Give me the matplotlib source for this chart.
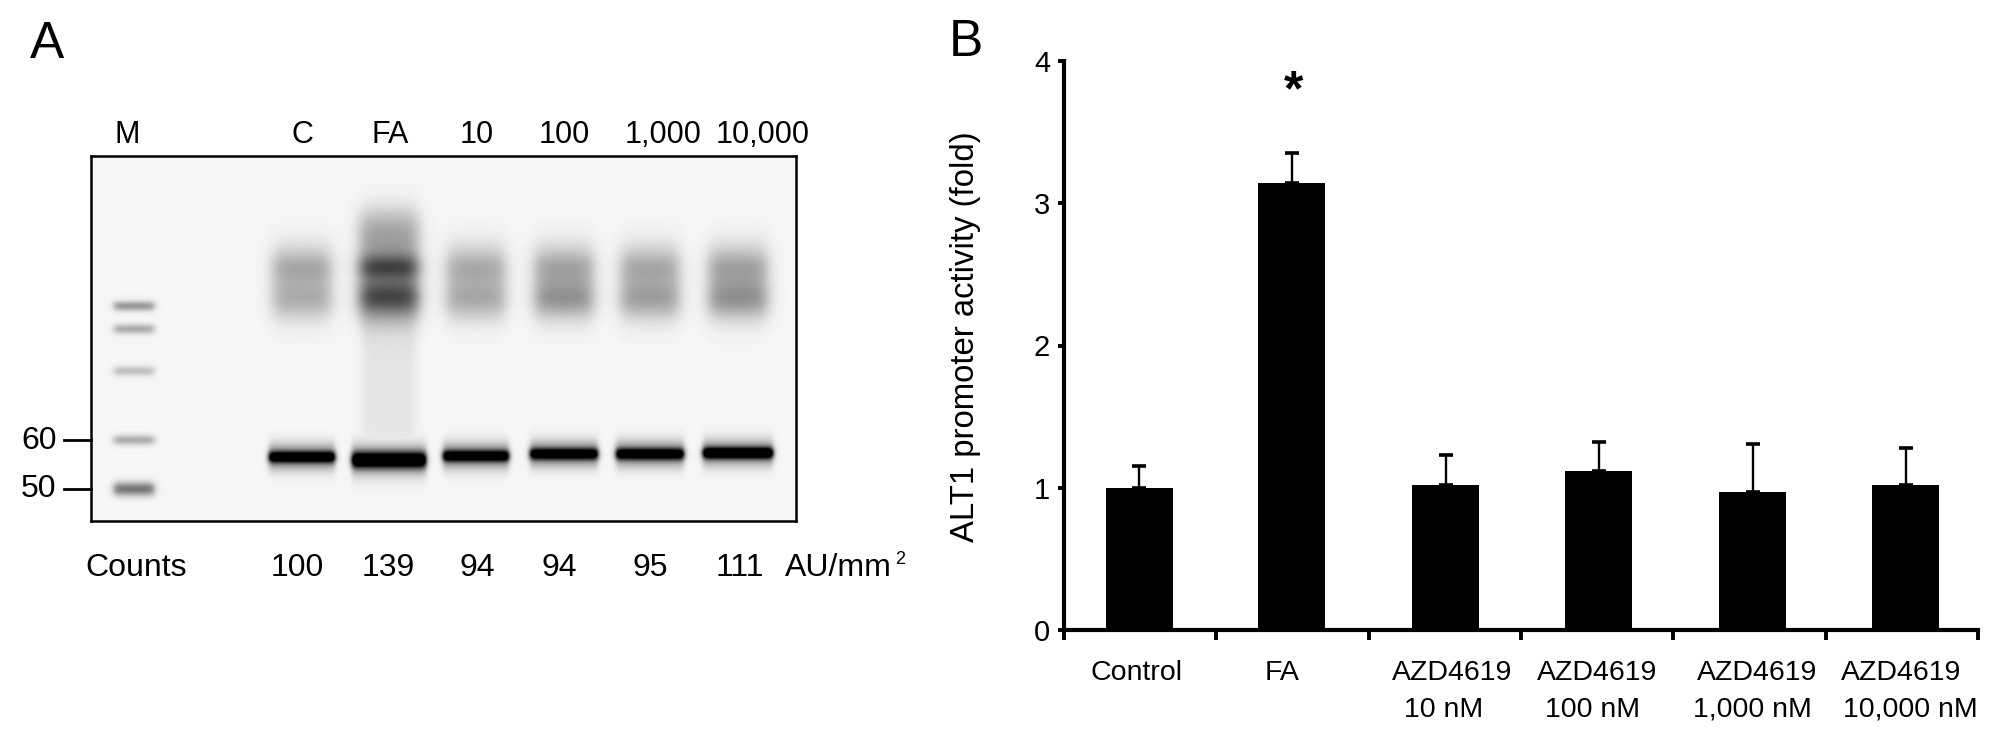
import numpy as np
import matplotlib
matplotlib.use("Agg")
import matplotlib.pyplot as plt

plt.rcParams['font.family'] = ['Liberation Sans', 'DejaVu Sans']

W, H = 2008, 737

# ---- panel A data
lane_labels = ['C', 'FA', '10', '100', '1,000', '10,000']
counts = ['100', '139', '94', '94', '95', '111']
marker_labels = ['60', '50']
# band strengths read from the blot (0 = background, 1 = black)
upper_band1 = [0.14, 0.36, 0.12, 0.13, 0.12, 0.13]
upper_band2 = [0.12, 0.36, 0.13, 0.20, 0.16, 0.20]
smear = [0.20, 0.38, 0.21, 0.23, 0.22, 0.24]
lower_band = [0.9, 1.0, 0.85, 0.85, 0.85, 1.0]
marker_strength = [0.38, 0.30, 0.22, 0.30, 0.52]

# ---- panel B data
categories = ['Control', 'FA', 'AZD4619', 'AZD4619', 'AZD4619', 'AZD4619']
doses = ['', '', '10 nM', '100 nM', '1,000 nM', '10,000 nM']
activity = [1.00, 3.14, 1.02, 1.12, 0.97, 1.02]
errors = [0.15, 0.21, 0.21, 0.20, 0.34, 0.26]
slot = [0, 1, 2, 3, 4, 5]

fig = plt.figure(figsize=(W / 100, H / 100), dpi=100)


def fx(x):
    return x / W


def fy(y):
    return 1 - y / H


def put(x, y, s, size=23, ha='center', va='center', **kw):
    return fig.text(fx(x), fy(y), s, fontsize=size, ha=ha, va=va, **kw)


# ---- panel A: blot
L, R, T, B = 91, 796, 156, 521
ax = fig.add_axes([fx(L), fy(B), (R - L) / W, (B - T) / H])
xx, yy = np.meshgrid(np.arange(L, R) + .5, np.arange(T, B) + .5)
lane_x = [302, 389, 476, 564, 650, 738]
lower_y = [457, 460, 456, 454, 454, 453]
lower_w = [33, 37, 33, 34, 34, 35]
ink = np.zeros_like(xx)


def flat(v, c, half, edge):
    """soft-edged top-hat profile"""
    return 0.5 * (np.tanh((v - c + half) / edge) - np.tanh((v - c - half) / edge))


for i, cx in enumerate(lane_x):
    hw = 29
    lat = flat(xx, cx, hw, 9)
    if i == 1:
        d = lat * (upper_band1[i] * np.exp(-((yy - 267) / 12) ** 2)
                   + upper_band2[i] * np.exp(-((yy - 297) / 16) ** 2)
                   + smear[i] * flat(yy, 268, 54, 16))
        d += 0.07 * flat(xx, cx, 27, 5) * flat(yy, 385, 68, 16)
    else:
        d = lat * (upper_band1[i] * np.exp(-((yy - 268) / 15) ** 2)
                   + upper_band2[i] * np.exp(-((yy - 298) / 17) ** 2)
                   + smear[i] * flat(yy, 282, 36, 16))
    ink = 1 - (1 - ink) * (1 - np.clip(d, 0, 1))
    main = flat(xx, cx, lower_w[i], 3)
    core = lower_band[i] * main * np.exp(-((yy - lower_y[i]) / (7.5 if i == 1 else 5.5)) ** 2)
    halo = 0.5 * main * np.exp(-((yy - lower_y[i]) / (15 if i == 1 else 13)) ** 2)
    ink = np.maximum(ink, np.clip(core + halo, 0, 1))
for s, my in zip(marker_strength, [306, 329, 371, 440, 489]):
    w = 5 if my != 489 else 7
    ink = np.maximum(ink, s * flat(xx, 134, 20, 4) * np.exp(-((yy - my) / w) ** 2))
gray = 0.965 * (1 - ink)
ax.imshow(gray, cmap='gray', vmin=0, vmax=1, aspect='auto', interpolation='bilinear')
ax.set_xticks([])
ax.set_yticks([])
for s in ax.spines.values():
    s.set_linewidth(1.8)

put(127, 135, 'M', size=22)
for cx, lab in zip([302, 390, 477, 564, 663, 763], lane_labels):
    put(cx, 135, lab, size=22)
put(136, 568, 'Counts')
for cx, c in zip([297, 388, 477, 559, 650, 740], counts):
    put(cx, 568, c)
put(785, 568, 'AU/mm', ha='left')
put(900, 559, '2', size=13)
put(39, 441, marker_labels[0])
put(39, 489, marker_labels[1])
fig.add_artist(plt.Line2D([fx(64), fx(91)], [fy(440), fy(440)], color='k', lw=2))
fig.add_artist(plt.Line2D([fx(64), fx(91)], [fy(489), fy(489)], color='k', lw=2))
put(47, 44, 'A', size=37)
put(966, 43, 'B', size=37)

# ---- panel B: bars
axb = fig.add_axes([fx(1064), fy(630), (1978 - 1064) / W, (630 - 61) / H])
pos = np.array(slot) + np.array([0.495, 0.495, 0.505, 0.51, 0.52, 0.525])
axb.bar(pos, activity, width=0.44, color='k')
axb.errorbar(pos, activity, yerr=[np.zeros(len(errors)), errors], fmt='none',
             ecolor='k', elinewidth=1.7, capsize=5, capthick=2.6)
axb.set_xlim(0, 6)
axb.set_ylim(0, 4)
axb.set_xticks(range(7))
axb.set_xticklabels([])
axb.set_yticks(range(5))
axb.tick_params(axis='x', direction='out', length=7, width=2.8)
axb.tick_params(axis='y', direction='out', length=4, width=2.8, labelsize=21, pad=6)
for s in ['top', 'right']:
    axb.spines[s].set_visible(False)
for s in ['left', 'bottom']:
    axb.spines[s].set_linewidth(3)
axb.patch.set_alpha(0)
put(966, 337, 'ALT1 promoter activity (fold)', size=23.7, rotation=90)
put(1294, 92, '*', size=36, fontweight='bold')
for cx, lab in zip([1136, 1282, 1452, 1597, 1757, 1901], categories):
    put(cx, 673, lab, size=20.5)
for cx, lab in zip([1444, 1593, 1752, 1910], doses[2:]):
    put(cx, 710, lab, size=20.5)

fig.savefig('out.png', dpi=100)
